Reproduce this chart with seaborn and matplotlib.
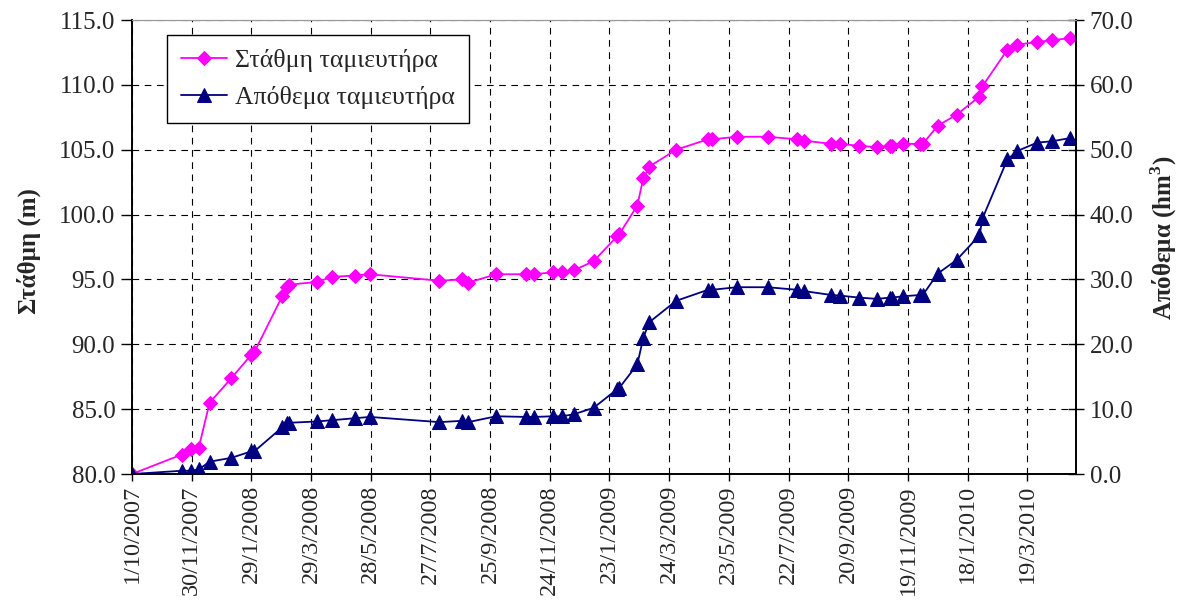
import pandas as pd
import matplotlib
matplotlib.use('Agg')
import matplotlib.pyplot as plt
import matplotlib.dates as mdates
import seaborn as sns

# measurement dates (reservoir level / storage)
dates = ['2007-10-01', '2007-11-20', '2007-11-29', '2007-12-07', '2007-12-18',
         '2008-01-09', '2008-01-29', '2008-02-01', '2008-02-29', '2008-03-05',
         '2008-03-07', '2008-04-04', '2008-04-19', '2008-05-12', '2008-05-27',
         '2008-08-05', '2008-08-28', '2008-09-03', '2008-10-01', '2008-10-31',
         '2008-11-08', '2008-11-27', '2008-12-06', '2008-12-18', '2009-01-07',
         '2009-01-31', '2009-02-02', '2009-02-20', '2009-02-26', '2009-03-04',
         '2009-03-31', '2009-05-02', '2009-05-06', '2009-05-31', '2009-07-01',
         '2009-07-31', '2009-08-07', '2009-09-03', '2009-09-12', '2009-10-01',
         '2009-10-19', '2009-11-01', '2009-11-03', '2009-11-14', '2009-12-01',
         '2009-12-04', '2009-12-19', '2010-01-07', '2010-01-30', '2010-02-02',
         '2010-02-27', '2010-03-09', '2010-03-29', '2010-04-13', '2010-05-01']

# level (m)
level = [80.0, 81.5, 81.9, 82.0, 85.5,
         87.4, 89.2, 89.4, 93.7, 94.4,
         94.6, 94.8, 95.2, 95.3, 95.4,
         94.9, 95.0, 94.75, 95.4, 95.4,
         95.4, 95.55, 95.55, 95.7, 96.4,
         98.35, 98.5, 100.7, 102.8, 103.7,
         105.0, 105.8, 105.8, 106.0, 106.0,
         105.8, 105.7, 105.45, 105.45, 105.3,
         105.2, 105.3, 105.3, 105.45, 105.45,
         105.45, 106.85, 107.7, 109.1, 109.9,
         112.7, 113.1, 113.3, 113.45, 113.6]

# storage (hm3)
storage = [0.0, 0.5, 0.5, 0.7, 1.9,
           2.5, 3.5, 3.5, 7.2, 7.8,
           7.9, 8.1, 8.3, 8.6, 8.8,
           8.0, 8.2, 8.0, 8.9, 8.8,
           8.8, 8.9, 8.9, 9.2, 10.2,
           13.1, 13.3, 16.9, 21.0, 23.4,
           26.7, 28.4, 28.4, 28.8, 28.8,
           28.4, 28.2, 27.6, 27.5, 27.2,
           27.0, 27.2, 27.2, 27.4, 27.6,
           27.6, 30.9, 33.0, 36.8, 39.4,
           48.5, 49.8, 51.1, 51.3, 51.8]

df = pd.DataFrame({'date': pd.to_datetime(dates), 'level': level, 'storage': storage})

sns.set_style('white')
plt.rcParams['font.family'] = ['Liberation Serif', 'DejaVu Serif']
plt.rcParams['mathtext.fontset'] = 'custom'
plt.rcParams['mathtext.rm'] = 'Liberation Serif'
plt.rcParams['mathtext.bf'] = 'Liberation Serif:bold'

fig = plt.figure(figsize=(11.82, 6.01), dpi=100)
ax = fig.add_axes([0.1117, 0.2113, 0.7986, 0.7554])
ax2 = ax.twinx()

sns.lineplot(data=df, x='date', y='level', ax=ax, color='#FF00FF', lw=1.3,
             marker='D', markersize=7.5, markeredgecolor='#FF00FF',
             label='Στάθμη ταμιευτήρα', legend=False)
sns.lineplot(data=df, x='date', y='storage', ax=ax2, color='#000080', lw=1.3,
             marker='^', markersize=9.5, markeredgecolor='#000080',
             label='Απόθεμα ταμιευτήρα', legend=False)

ax.set_ylim(80, 115)
ax2.set_ylim(0, 70)
ax.set_yticks(range(80, 116, 5))
ax2.set_yticks(range(0, 71, 10))
ax.yaxis.set_major_formatter(plt.FormatStrFormatter('%.1f'))
ax2.yaxis.set_major_formatter(plt.FormatStrFormatter('%.1f'))

ticks = pd.date_range('2007-10-01', periods=16, freq='60D')
ax.set_xticks(ticks)
ax.xaxis.set_major_formatter(mdates.DateFormatter('%-d/%-m/%Y'))
ax.set_xlim(pd.Timestamp('2007-10-01'), pd.Timestamp('2010-05-07'))
for lab in ax.get_xticklabels():
    lab.set_rotation(90)

ax.grid(True, color='black', linestyle=(0, (6, 5)), lw=0.8)
ax.set_axisbelow(True)

ax.tick_params(axis='y', direction='out', length=8, width=1, labelsize=18, left=True, color='black', pad=4)
ax.tick_params(axis='x', direction='out', length=5, width=1, labelsize=17.5, bottom=True, color='black', pad=3)
ax2.tick_params(axis='y', direction='inout', length=12, width=1, labelsize=18, right=True, color='black', pad=4)

for a in (ax, ax2):
    for s in ['left', 'right', 'bottom']:
        a.spines[s].set_color('black')
        a.spines[s].set_linewidth(1.2)
    a.spines['top'].set_color('#999999')

ax.set_xlabel('')
ax.set_ylabel('Στάθμη (m)', fontweight='bold', size=18)
ax2.set_ylabel(r'Απόθεμα (hm$^\mathbf{3}$)', fontweight='bold', size=18, rotation=90)
ax.yaxis.set_label_coords(-0.096, 0.49)
ax2.yaxis.set_label_coords(1.077, 0.52)

h1, l1 = ax.get_legend_handles_labels()
h2, l2 = ax2.get_legend_handles_labels()
leg = ax2.legend(h1 + h2, l1 + l2, loc='upper left', bbox_to_anchor=(0.037, 0.967),
                 fontsize=18.5, frameon=True, fancybox=False, borderaxespad=0,
                 handlelength=1.8, handletextpad=0.3, labelspacing=0.55, borderpad=0.55)
leg.get_frame().set_edgecolor('black')
leg.get_frame().set_linewidth(1)
leg.get_frame().set_alpha(1)

fig.savefig('out.png', dpi=100)
